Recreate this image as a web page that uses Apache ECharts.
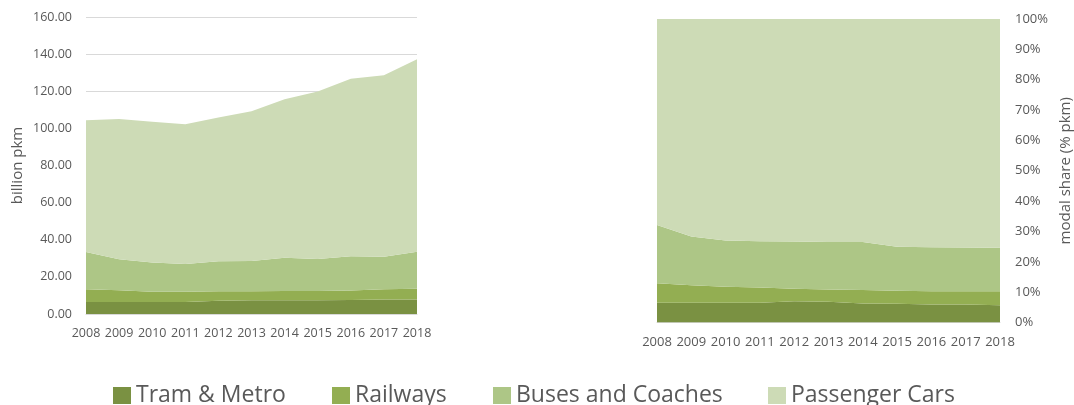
<!DOCTYPE html>
<html>
<head>
<meta charset="utf-8">
<script src="https://cdn.jsdelivr.net/npm/echarts@6/dist/echarts.min.js"></script>
<style>
html,body{margin:0;padding:0;background:#fff;}
#c{width:1074px;height:405px;}
</style>
</head>
<body>
<div id="c"></div>
<script>
var years = ['2008','2009','2010','2011','2012','2013','2014','2015','2016','2017','2018'];
var seriesNames = ['Tram & Metro','Railways','Buses and Coaches','Passenger Cars'];

// billion pkm (left chart)
var tramPkm = [6.5, 6.5, 6.5, 6.5, 7.2, 7.4, 7.4, 7.4, 7.6, 7.8, 7.8];
var railPkm = [6.8, 6.3, 5.5, 5.5, 5.0, 4.8, 5.0, 5.0, 5.0, 5.6, 5.8];
var busPkm  = [20.1, 16.7, 15.8, 14.9, 16.2, 16.3, 17.9, 17.2, 18.5, 17.5, 20.0];
var carPkm  = [71.0, 75.6, 75.8, 75.3, 77.4, 80.7, 85.4, 90.2, 95.7, 97.7, 103.6];

// modal share % (right chart)
var tramShare = [6.5, 6.5, 6.5, 6.5, 7.0, 6.8, 6.3, 6.2, 5.9, 5.9, 5.7];
var railShare = [6.4, 5.8, 5.3, 5.0, 4.1, 4.1, 4.4, 4.3, 4.4, 4.4, 4.6];
var busShare  = [19.2, 16.0, 15.2, 15.3, 15.6, 15.6, 15.8, 14.5, 14.5, 14.4, 14.3];
var carShare  = [67.9, 71.7, 73.0, 73.2, 73.3, 73.5, 73.5, 75.0, 75.2, 75.3, 75.4];

var colors = ['#7a9142', '#93ae52', '#adc686', '#cddbb6'];
var txt = '#595959';
var font = 'Open Sans';

function areaSeries(name, data, idx, axisIdx, stack) {
  return {
    name: name, type: 'line', data: data, stack: stack,
    xAxisIndex: axisIdx, yAxisIndex: axisIdx,
    symbol: 'none', lineStyle: {width: 0}, silent: true,
    areaStyle: {color: colors[idx], opacity: 1},
    itemStyle: {color: colors[idx]}
  };
}

var chart = echarts.init(document.getElementById('c'), null, {renderer: 'canvas'});

var legendLefts = [113, 332, 493, 768];
var legends = seriesNames.map(function (n, i) {
  return {
    data: [n], left: legendLefts[i], top: 384, padding: 0,
    icon: 'rect', itemWidth: 18, itemHeight: 17, itemGap: 4,
    selectedMode: false,
    textStyle: {color: txt, fontFamily: font, fontSize: 23, padding: [0,0,0,0]}
  };
});

chart.setOption({
  animation: false,
  textStyle: {fontFamily: font},
  color: colors,
  legend: legends,
  grid: [
    {left: 86, right: 657, top: 17, bottom: 91},
    {left: 657, right: 70, top: 19, bottom: 82.5}
  ],
  xAxis: [
    {gridIndex: 0, type: 'category', data: years, boundaryGap: false,
     axisLine: {lineStyle: {color: '#d9d9d9'}}, axisTick: {show: false},
     axisLabel: {color: txt, fontSize: 12.5, fontFamily: font, margin: 13, interval: 0}},
    {gridIndex: 1, type: 'category', data: years, boundaryGap: false,
     axisLine: {lineStyle: {color: '#d9d9d9'}}, axisTick: {show: false},
     axisLabel: {color: txt, fontSize: 13, fontFamily: font, margin: 13, interval: 0}}
  ],
  yAxis: [
    {gridIndex: 0, type: 'value', min: 0, max: 160, interval: 20,
     name: 'billion pkm', nameLocation: 'middle', nameGap: 61, nameRotate: 90,
     nameTextStyle: {color: txt, fontSize: 15, fontFamily: font},
     axisLine: {show: false}, axisTick: {show: false},
     axisLabel: {color: txt, fontSize: 12.5, fontFamily: font, margin: 14,
       formatter: function (v) { return v.toFixed(2); }},
     splitLine: {lineStyle: {color: '#d9d9d9'}}},
    {gridIndex: 1, type: 'value', position: 'right', min: 0, max: 100, interval: 10,
     name: 'modal share (% pkm)', nameLocation: 'middle', nameGap: 58, nameRotate: 90,
     nameTextStyle: {color: txt, fontSize: 15, fontFamily: font},
     axisLine: {show: false}, axisTick: {show: false},
     axisLabel: {color: txt, fontSize: 13, fontFamily: font, margin: 15, formatter: '{value}%'},
     splitLine: {show: false}}
  ],
  series: [
    areaSeries(seriesNames[0], tramPkm, 0, 0, 'a'),
    areaSeries(seriesNames[1], railPkm, 1, 0, 'a'),
    areaSeries(seriesNames[2], busPkm, 2, 0, 'a'),
    areaSeries(seriesNames[3], carPkm, 3, 0, 'a'),
    areaSeries(seriesNames[0], tramShare, 0, 1, 'b'),
    areaSeries(seriesNames[1], railShare, 1, 1, 'b'),
    areaSeries(seriesNames[2], busShare, 2, 1, 'b'),
    areaSeries(seriesNames[3], carShare, 3, 1, 'b')
  ]
});
</script>
</body>
</html>
